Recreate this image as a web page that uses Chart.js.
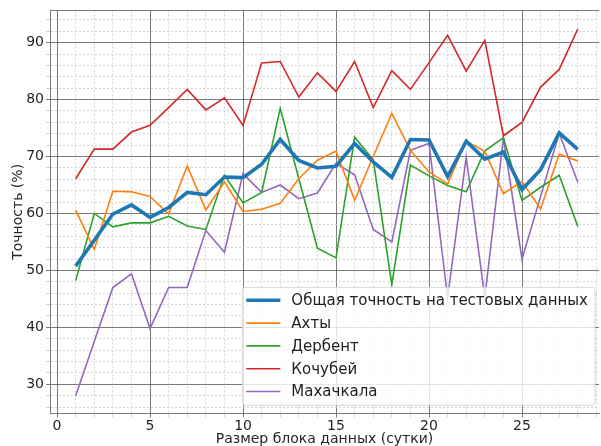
<!DOCTYPE html>
<html>
<head>
<meta charset="utf-8">
<script src="https://cdn.jsdelivr.net/npm/chart.js@4/dist/chart.umd.min.js"></script>
<style>
  body { margin: 0; background: #fff; }
  #wrap { width: 601px; height: 446px; }
</style>
</head>
<body>
<div id="wrap"><canvas id="accuracyChart" width="601" height="446"></canvas></div>
<script>
// размер блока данных (сутки)
const blockSizes = [1, 2, 3, 4, 5, 6, 7, 8, 9, 10, 11, 12, 13, 14, 15, 16, 17, 18, 19, 20, 21, 22, 23, 24, 25, 26, 27, 28];

const overall = [50.75, 55.3, 59.9, 61.5, 59.3, 61.05, 63.7, 63.3, 66.4, 66.3, 68.65, 73.0, 69.3, 68.0,
    68.3, 72.3, 69.05, 66.35, 73.0, 72.9, 66.5, 72.7, 69.55, 70.8, 64.2, 67.7, 74.15, 71.25];
const akhty = [60.6, 53.7, 63.9, 63.8, 63.0, 59.9, 68.35, 60.6, 65.55, 60.35, 60.75, 61.8, 66.1, 69.35,
    70.95, 62.3, 70.0, 77.6, 71.1, 67.3, 65.2, 72.7, 70.9, 63.5, 65.6, 60.8, 70.45, 69.2];
const derbent = [48.2, 60.0, 57.65, 58.35, 58.35, 59.5, 57.8, 57.2, 66.7, 61.85, 63.7, 78.45, 66.1, 53.9,
    52.2, 73.4, 69.4, 47.5, 68.5, 66.6, 64.9, 63.8, 71.0, 73.3, 62.3, 64.6, 66.7, 57.7];
const kochubey = [66.1, 71.3, 71.3, 74.3, 75.5, 78.6, 81.8, 78.2, 80.3, 75.45, 86.45, 86.7, 80.45, 84.7,
    81.45, 86.7, 78.6, 85.1, 81.8, 86.5, 91.3, 85.0, 90.4, 73.65, 76.0, 82.2, 85.3, 92.4];
const makhachkala = [28.0, 37.5, 47.0, 49.4, 39.8, 47.0, 47.0, 57.0, 53.2, 67.0, 63.7, 65.0, 62.6, 63.6,
    68.8, 66.8, 57.2, 55.0, 71.1, 72.3, 45.2, 69.9, 45.2, 73.3, 52.0, 63.0, 74.1, 65.5];

const xMajorTicks = [0, 5, 10, 15, 20, 25];
const yMajorTicks = [30, 40, 50, 60, 70, 80, 90];

const series = [
    { label: 'Общая точность на тестовых данных', values: overall, color: '#1f77b4', width: 3.6 },
    { label: 'Ахты', values: akhty, color: '#ff7f0e', width: 1.6 },
    { label: 'Дербент', values: derbent, color: '#2ca02c', width: 1.6 },
    { label: 'Кочубей', values: kochubey, color: '#d62728', width: 1.6 },
    { label: 'Махачкала', values: makhachkala, color: '#9467bd', width: 1.6 }
];

const FONT = '"DejaVu Sans", sans-serif';
const MAJOR = 'rgba(90, 90, 90, 0.8)';
const MINOR = 'rgba(200, 200, 200, 0.8)';

// рамка легенды внутри области графика, справа снизу
const legendInside = {
    id: 'legendInside',
    afterDraw(chart) {
        const { ctx, chartArea } = chart;
        const rowH = 22.8;
        ctx.save();
        ctx.font = '15px ' + FONT;
        const textW = Math.max(...chart.data.datasets.map(d => ctx.measureText(d.label).width));
        const w = 4 + 34 + 11 + textW + 7;
        const h = chart.data.datasets.length * rowH + 4;
        const x = chartArea.right - 4 - w;
        const y = chartArea.bottom - 8 - h;

        ctx.beginPath();
        ctx.roundRect(x, y, w, h, 3);
        ctx.fillStyle = 'rgba(255, 255, 255, 0.8)';
        ctx.fill();
        ctx.strokeStyle = 'rgba(204, 204, 204, 0.8)';
        ctx.lineWidth = 1;
        ctx.stroke();

        chart.data.datasets.forEach((d, i) => {
            const cy = y + 13 + i * rowH;
            ctx.beginPath();
            ctx.moveTo(x + 4, cy);
            ctx.lineTo(x + 38, cy);
            ctx.strokeStyle = d.borderColor;
            ctx.lineWidth = d.borderWidth;
            ctx.stroke();
            ctx.fillStyle = '#222';
            ctx.textBaseline = 'middle';
            ctx.fillText(d.label, x + 49, cy + 1);
        });
        ctx.restore();
    }
};

// верхняя граница осей
const topSpine = {
    id: 'topSpine',
    beforeDatasetsDraw(chart) {
        const { ctx, chartArea } = chart;
        ctx.save();
        ctx.strokeStyle = MAJOR;
        ctx.lineWidth = 1;
        ctx.beginPath();
        ctx.moveTo(chartArea.left, Math.round(chartArea.top) + 0.5);
        ctx.lineTo(chartArea.right, Math.round(chartArea.top) + 0.5);
        ctx.stroke();
        ctx.restore();
    }
};

function isMajor(list, v) {
    return list.includes(Math.round(v * 100) / 100);
}

const ctx = document.getElementById('accuracyChart').getContext('2d');
new Chart(ctx, {
    type: 'line',
    data: {
        datasets: series.map(s => ({
            label: s.label,
            data: s.values.map((v, i) => ({ x: blockSizes[i], y: v })),
            borderColor: s.color,
            backgroundColor: s.color,
            borderWidth: s.width,
            pointRadius: 0,
            tension: 0,
            fill: false
        }))
    },
    options: {
        responsive: false,
        animation: false,
        layout: { padding: { top: 10, right: 2, left: 0, bottom: 0 } },
        plugins: {
            legend: { display: false },
            tooltip: { enabled: false }
        },
        scales: {
            x: {
                type: 'linear',
                min: -0.38,
                max: 29.14,
                afterBuildTicks: scale => {
                    const t = [];
                    for (let v = 0; v <= 29; v++) t.push({ value: v });
                    scale.ticks = t;
                },
                afterFit: scale => { scale.height = 32.7; },
                ticks: {
                    autoSkip: false,
                    maxRotation: 0,
                    padding: 1,
                    color: '#262626',
                    font: { family: FONT, size: 14 },
                    callback: v => isMajor(xMajorTicks, v) ? String(v) : ''
                },
                grid: {
                    color: c => c.tick && isMajor(xMajorTicks, c.tick.value) ? MAJOR : MINOR,
                    tickColor: c => c.tick && isMajor(xMajorTicks, c.tick.value) ? MAJOR : MINOR,
                    tickLength: 4
                },
                border: {
                    display: true,
                    color: MAJOR,
                    dash: c => c.tick && !isMajor(xMajorTicks, c.tick.value) ? [2, 2] : []
                },
                title: {
                    display: true,
                    text: 'Размер блока данных (сутки)',
                    color: '#262626',
                    font: { family: FONT, size: 14, lineHeight: 1 },
                    padding: 0
                }
            },
            y: {
                type: 'linear',
                min: 24.9,
                max: 95.67,
                afterBuildTicks: scale => {
                    const t = [];
                    for (let v = 26; v <= 94; v += 2) t.push({ value: v });
                    scale.ticks = t;
                },
                afterFit: scale => { scale.width = 50; },
                ticks: {
                    autoSkip: false,
                    padding: 2,
                    color: '#262626',
                    font: { family: FONT, size: 14 },
                    callback: v => isMajor(yMajorTicks, v) ? String(v) : ''
                },
                grid: {
                    color: c => c.tick && isMajor(yMajorTicks, c.tick.value) ? MAJOR : MINOR,
                    tickColor: c => c.tick && isMajor(yMajorTicks, c.tick.value) ? MAJOR : MINOR,
                    tickLength: 4
                },
                border: {
                    display: true,
                    color: MAJOR,
                    dash: c => c.tick && !isMajor(yMajorTicks, c.tick.value) ? [2, 2] : []
                },
                title: {
                    display: true,
                    text: 'Точность (%)',
                    color: '#262626',
                    font: { family: FONT, size: 14, lineHeight: 1 },
                    padding: { top: 11, bottom: 0 }
                }
            }
        }
    },
    plugins: [topSpine, legendInside]
});
</script>
</body>
</html>
